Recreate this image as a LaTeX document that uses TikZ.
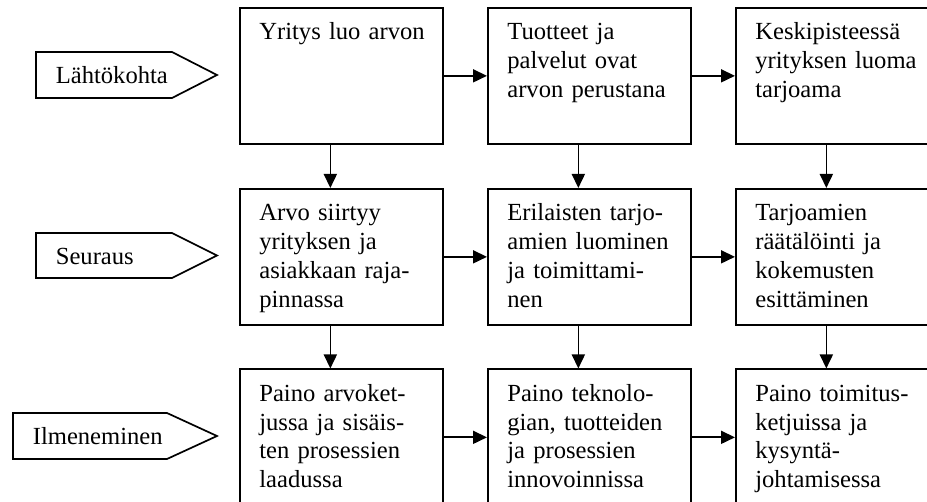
\documentclass[tikz,border=0pt]{standalone}
\usepackage{fontspec}
\setmainfont{Liberation Serif}
\usetikzlibrary{arrows.meta}
\begin{document}
\begin{tikzpicture}[x=1pt,y=-1pt,
  line width=1.7pt,
  cell/.style={draw, rectangle, inner sep=0pt, minimum width=203pt, minimum height=136pt},
  celltext/.style={anchor=north west, inner sep=0pt, align=left, text width=190pt,
    font=\fontsize{24.6}{28.7}\selectfont, execute at begin node=\strut},
  tag/.style={anchor=base west, inner sep=0pt, font=\fontsize{24.6}{28.7}\selectfont},
  flow/.style={-{Triangle[length=14pt,width=13pt]}}]
\useasboundingbox (0,0) rectangle (927,502);

% grid of cells (rows: starting point, consequence, manifestation)
\node[cell, anchor=north west] (b11) at (239,7) {};
\node[cell, anchor=north west] (b12) at (487,7) {};
\node[cell, anchor=north west] (b13) at (735,7) {};
\node[cell, anchor=north west] (b21) at (239,188) {};
\node[cell, anchor=north west] (b22) at (487,188) {};
\node[cell, anchor=north west] (b23) at (735,188) {};
\node[cell, anchor=north west] (b31) at (239,368.5) {};
\node[cell, anchor=north west] (b32) at (487,368.5) {};
\node[cell, anchor=north west] (b33) at (735,368.5) {};

% cell texts
\tikzset{inset/.style={xshift=19.5pt,yshift=-12pt}}
\node[celltext] (t11) at ([inset]b11.north west) {Yritys luo arvon};
\node[celltext] (t12) at ([inset]b12.north west) {Tuotteet ja\\palvelut ovat\\arvon perustana};
\node[celltext] (t13) at ([inset]b13.north west) {Keskipisteessä\\yrityksen luoma\\tarjoama};
\node[celltext] (t21) at ([inset]b21.north west) {Arvo siirtyy\\yrityksen ja\\asiakkaan raja-\\pinnassa};
\node[celltext] (t22) at ([inset]b22.north west) {Erilaisten tarjo-\\amien luominen\\ja toimittami-\\nen};
\node[celltext] (t23) at ([inset]b23.north west) {Tarjoamien\\räätälöinti ja\\kokemusten\\esittäminen};
\node[celltext] (t31) at ([inset]b31.north west) {Paino arvoket-\\jussa ja sisäis-\\ten prosessien\\laadussa};
\node[celltext] (t32) at ([inset]b32.north west) {Paino teknolo-\\gian, tuotteiden\\ja prosessien\\innovoinnissa};
\node[celltext] (t33) at ([inset]b33.north west) {Paino toimitus-\\ketjuissa ja\\kysyntä-\\johtamisessa};

% row tags
\draw (36,52) -- (172,52) -- (217,75) -- (172,98) -- (36,98) -- cycle;
\node[tag] (r1) at (55,84) {Lähtökohta};
\draw (36,233) -- (172,233) -- (217,255.5) -- (172,278) -- (36,278) -- cycle;
\node[tag] (r2) at (55,264.5) {Seuraus};
\draw (13,413) -- (167,413) -- (217,436) -- (167,459) -- (13,459) -- cycle;
\node[tag] (r3) at (32,445) {Ilmeneminen};

% horizontal flow
\draw[flow] (b11.east) -- (b12.west);
\draw[flow] (b12.east) -- (b13.west);
\draw[flow] (b21.east) -- (b22.west);
\draw[flow] (b22.east) -- (b23.west);
\draw[flow] (b31.east) -- (b32.west);
\draw[flow] (b32.east) -- (b33.west);

% vertical flow
\draw[flow] ([xshift=-11pt]b11.south) -- ([xshift=-11pt]b21.north);
\draw[flow] ([xshift=-11pt]b12.south) -- ([xshift=-11pt]b22.north);
\draw[flow] ([xshift=-11pt]b13.south) -- ([xshift=-11pt]b23.north);
\draw[flow] ([xshift=-11pt]b21.south) -- ([xshift=-11pt]b31.north);
\draw[flow] ([xshift=-11pt]b22.south) -- ([xshift=-11pt]b32.north);
\draw[flow] ([xshift=-11pt]b23.south) -- ([xshift=-11pt]b33.north);
\end{tikzpicture}
\end{document}
